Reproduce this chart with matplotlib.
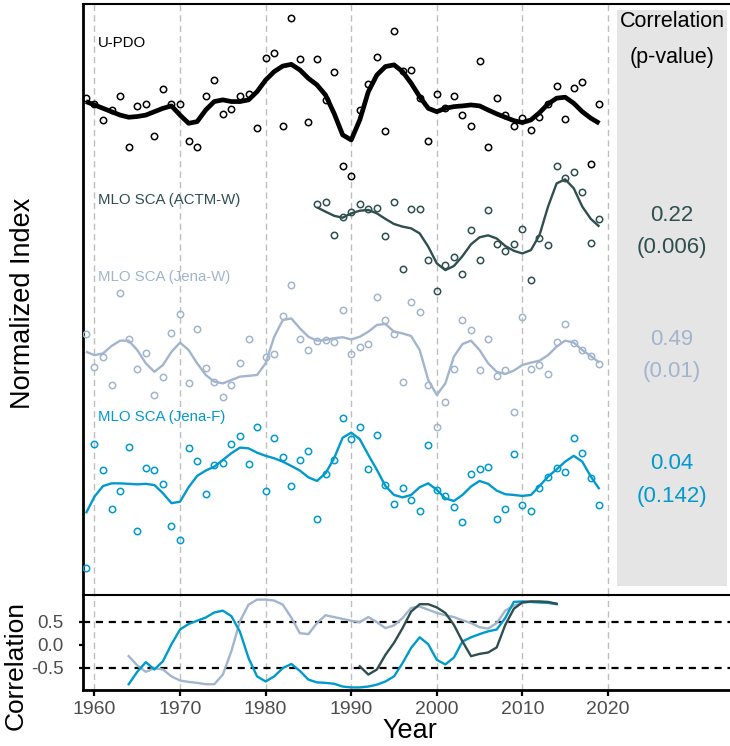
import numpy as np
import matplotlib
matplotlib.use("Agg")
import matplotlib.pyplot as plt

plt.rcParams['font.family'] = ['Liberation Sans', 'DejaVu Sans']

# ---------------- data ----------------
years = np.arange(1959, 2020)
years_actm = np.arange(1986, 2020)

# U-PDO annual index and smoothed curve
pdo = [0.37, 0.12, -0.55, -0.14, 0.46, -1.66, 0.01, 0.12, -1.21, 0.72,
       0.12, 0.12, -1.41, -1.68, 0.44, 1.10, -0.32, -0.11, 0.44, 0.52,
       -0.90, 2.00, 2.21, -0.80, 3.68, 1.96, -0.65, 1.97, 0.28, 1.45,
       -2.44, -2.86, -0.15, 0.92, 2.06, -1.01, 3.12, 1.48, 1.53, 0.35,
       -1.44, 0.52, -0.07, 0.44, -0.36, -0.79, 1.90, -1.67, 0.37, -0.35,
       -0.79, -0.46, -0.95, -0.44, 0.11, 0.87, -0.52, 0.76, 1.01, -2.39,
       0.12]
pdo_smooth = [0.21, 0.07, -0.07, -0.21, -0.35, -0.44, -0.41, -0.35, -0.21, -0.07,
              0.03, -0.35, -0.69, -0.62, -0.14, 0.21, 0.28, 0.21, 0.21, 0.28,
              0.62, 1.10, 1.45, 1.68, 1.75, 1.52, 1.17, 0.90, 0.48, -0.28,
              -1.17, -1.38, -0.55, 0.62, 1.31, 1.66, 1.73, 1.45, 0.97, 0.41,
              -0.07, -0.21, -0.07, 0.00, 0.03, 0.07, 0.03, -0.14, -0.30, -0.44,
              -0.58, -0.66, -0.55, -0.25, 0.11, 0.35, 0.39, 0.14, -0.21, -0.48,
              -0.69]

# MLO seasonal cycle amplitude, ACTM-W (1986-2019)
actm = [1.08, 1.15, -0.21, 0.55, 0.75, 1.09, 0.86, 0.92, -0.23, 1.17,
        -1.60, 0.88, 0.86, -1.26, -2.54, -1.46, -1.12, -1.82, 0.01, -1.23,
        0.81, -0.58, -0.86, -0.59, 0.04, -2.07, -0.32, -0.62, 2.64, 2.14,
        2.40, 1.56, -0.54, 0.44]
actm_smooth = [0.94, 0.76, 0.59, 0.51, 0.69, 0.80, 0.83, 0.69, 0.46, 0.25,
               0.14, 0.07, -0.14, -0.69, -1.38, -1.66, -1.49, -1.08, -0.59, -0.30,
               -0.22, -0.35, -0.66, -0.86, -0.97, -0.83, -0.21, 0.97, 1.93, 2.10,
               1.73, 0.97, 0.46, 0.14]

# MLO seasonal cycle amplitude, Jena-W
jena_w = [0.51, -0.83, -0.44, -1.57, 2.21, 0.30, -0.92, -0.28, -2.00, -1.26,
          0.58, 1.34, -1.50, 0.72, -0.90, -1.45, -2.07, -1.60, -0.68, 0.30,
          np.nan, -0.44, -0.29, 1.27, 2.54, 0.33, -0.14, 0.25, 0.28, 0.21,
          1.52, -0.32, -0.01, 0.12, 2.04, 1.10, 0.51, -1.46, 1.85, 1.45,
          -1.60, -3.31, -2.30, -0.92, 1.10, 0.69, -0.98, 0.33, -1.23, -0.98,
          -2.69, 1.21, -0.92, -0.77, -1.15, 0.18, 0.92, 0.14, -0.14, -0.39,
          -0.70]
jena_w_smooth = [-0.21, -0.35, -0.28, 0.03, 0.25, 0.25, -0.14, -0.69, -1.04, -0.76,
                 -0.21, 0.17, -0.14, -0.69, -1.17, -1.45, -1.52, -1.38, -1.24, -1.21,
                 -1.17, -0.69, 0.41, 1.10, 1.17, 0.76, 0.41, 0.25, 0.28, 0.35,
                 0.39, 0.30, 0.41, 0.62, 0.90, 0.94, 0.62, 0.55, 0.44, -0.14,
                 -1.38, -2.00, -1.52, -0.41, 0.11, 0.25, -0.14, -0.69, -1.04, -1.13,
                 -0.99, -0.76, -0.66, -0.58, -0.35, 0.00, 0.25, 0.17, -0.14, -0.39,
                 -0.66]

# MLO seasonal cycle amplitude, Jena-F
jena_f = [-3.80, 1.35, 0.26, -1.34, -0.61, 1.21, -2.24, 0.35, 0.29, -0.30,
          -2.04, -2.61, 1.17, 0.66, -0.73, 0.47, 0.55, 1.34, 1.70, 0.52,
          2.07, -0.59, 1.61, 0.80, -0.39, 0.69, 1.08, -1.75, 0.11, 0.69,
          2.42, 1.56, 2.07, 0.33, 1.73, -0.35, -1.12, -0.48, -0.97, -1.41,
          1.30, -0.55, -0.80, -1.24, -1.86, 0.11, 0.33, 0.41, -1.77, -1.35,
          0.92, -1.17, -1.41, -0.48, -0.03, 0.35, 0.18, 1.59, 0.97, -0.07,
          -1.17]
jena_f_smooth = [-1.52, -0.83, -0.39, -0.28, -0.28, -0.30, -0.32, -0.30, -0.35, -0.69,
                 -1.10, -1.04, -0.44, 0.03, 0.25, 0.41, 0.69, 0.97, 1.20, 1.17,
                 0.99, 0.86, 0.76, 0.62, 0.44, 0.25, -0.03, -0.18, 0.14, 0.76,
                 1.61, 1.82, 1.55, 0.90, 0.28, -0.39, -0.76, -0.86, -0.76, -0.44,
                 -0.28, -0.55, -0.90, -1.01, -0.76, -0.41, -0.18, -0.30, -0.58, -0.73,
                 -0.76, -0.80, -0.76, -0.39, 0.00, 0.30, 0.62, 0.86, 0.62, 0.00,
                 -0.52]

# Running correlation with U-PDO
corr_years = np.arange(1964, 2015)
corr_years_actm = np.arange(1991, 2015)
corr_jena_w = [-0.25, -0.45, -0.59, -0.51, -0.54, -0.69, -0.78, -0.81, -0.83, -0.86,
               -0.86, -0.65, -0.14, 0.51, 0.87, 0.98, 0.98, 0.96, 0.87, 0.59,
               0.25, 0.23, 0.47, 0.64, 0.60, 0.56, 0.52, 0.49, 0.60, 0.49,
               0.36, 0.42, 0.58, 0.80, 0.83, 0.76, 0.69, 0.64, 0.60, 0.53,
               0.47, 0.38, 0.35, 0.47, 0.74, 0.85, 0.91, 0.93, 0.92, 0.91,
               0.89]
corr_actm = [-0.47, -0.65, -0.54, -0.22, 0.04, 0.36, 0.72, 0.88, 0.88, 0.81,
             0.69, 0.43, 0.07, -0.25, -0.20, -0.17, -0.06, 0.43, 0.78, 0.92,
             0.94, 0.94, 0.93, 0.89]
corr_jena_f = [-0.86, -0.59, -0.38, -0.54, -0.36, 0.01, 0.33, 0.45, 0.52, 0.59,
               0.70, 0.74, 0.62, 0.28, -0.29, -0.69, -0.80, -0.69, -0.51, -0.42,
               -0.57, -0.76, -0.82, -0.83, -0.85, -0.91, -0.93, -0.93, -0.91, -0.87,
               -0.80, -0.69, -0.40, -0.07, 0.16, 0.01, -0.33, -0.43, -0.28, 0.07,
               0.16, 0.23, 0.29, 0.33, 0.58, 0.93, 0.94, 0.93, 0.92, 0.91,
               0.88]

labels = ["U-PDO", "MLO SCA (ACTM-W)", "MLO SCA (Jena-W)", "MLO SCA (Jena-F)"]
corr_values = ["0.22", "0.49", "0.04"]
p_values = ["(0.006)", "(0.01)", "(0.142)"]
x_ticks = [1960, 1970, 1980, 1990, 2000, 2010, 2020]
y_ticks_corr = [-0.5, 0.0, 0.5]

# ---------------- style ----------------
c_pdo = "black"
c_actm = "#2F4F4F"
c_jw = "#A2B5CD"
c_jf = "#009ACD"
grid_c = "#BEBEBE"
tick_c = "#4D4D4D"

offsets = [20.18, 15.07, 10.24, 4.86]
xlim = (1958.66, 2034.26)

fig = plt.figure(figsize=(7.3, 7.46), dpi=100)
ax = fig.add_axes([0.1137, 0.2038, 0.8863, 0.7902])
axc = fig.add_axes([0.1137, 0.0751, 0.8863, 0.1273])

# ---------------- top panel ----------------
ax.set_xlim(*xlim)
ax.set_ylim(0, 24.41)
ax.axvspan(2021, 2033.9, ymin=0.0136, ymax=0.9907, color="#E5E5E5", lw=0, zorder=0)
for xv in x_ticks:
    ax.axvline(xv, color=grid_c, lw=1.0, dashes=(4.5, 3), zorder=1)

series = [
    (years, pdo, pdo_smooth, c_pdo, 3.4),
    (years_actm, actm, actm_smooth, c_actm, 1.7),
    (years, jena_w, jena_w_smooth, c_jw, 1.7),
    (years, jena_f, jena_f_smooth, c_jf, 1.7),
]
for (yr, pts, sm, col, lw), off in zip(series, offsets):
    ax.plot(yr, np.asarray(pts) + off, ls="none", marker="o", ms=4.6,
            mfc="none", mec=col, mew=1.1, zorder=3)
    ax.plot(yr, np.asarray(sm) + off, color=col, lw=lw, zorder=4,
            solid_capstyle="butt", solid_joinstyle="round")

label_y = [0.9347, 0.6684, 0.5377, 0.3003]
for txt, yy, col in zip(labels, label_y, [c_pdo, c_actm, c_jw, c_jf]):
    ax.text(1960.4, yy, txt, transform=ax.get_xaxis_transform(), color=col,
            fontsize=10.8, ha="left", va="center", zorder=5)

ax.text(2027.5, 0.9710, "Correlation", transform=ax.get_xaxis_transform(),
        ha="center", va="center", fontsize=15.5, color="black")
ax.text(2027.5, 0.9100, "(p-value)", transform=ax.get_xaxis_transform(),
        ha="center", va="center", fontsize=15.5, color="black")
val_y = [(0.6420, 0.5880), (0.4310, 0.3770), (0.2210, 0.1650)]
for cv, pv, (y1, y2), col in zip(corr_values, p_values, val_y, [c_actm, c_jw, c_jf]):
    ax.text(2027.5, y1, cv, transform=ax.get_xaxis_transform(),
            ha="center", va="center", fontsize=16, color=col)
    ax.text(2027.5, y2, pv, transform=ax.get_xaxis_transform(),
            ha="center", va="center", fontsize=16, color=col)

ax.set_xticks([])
ax.set_yticks([])
for s in ["right", "bottom"]:
    ax.spines[s].set_visible(False)
ax.spines["left"].set_linewidth(2.0)
ax.spines["top"].set_linewidth(1.5)
ax.set_ylabel("Normalized Index", fontsize=19.5)
ax.yaxis.set_label_coords(-0.073, 0.4936)
ax.patch.set_alpha(0)

# ---------------- correlation panel ----------------
axc.set_xlim(*xlim)
axc.set_ylim(-0.985, 1.08)
for xv in x_ticks:
    axc.axvline(xv, color=grid_c, lw=1.0, dashes=(4.5, 3), zorder=1)
for yv in (0.5, -0.5):
    axc.axhline(yv, color="black", lw=1.6, dashes=(3.2, 2.6), zorder=2)

axc.plot(corr_years, corr_jena_w, color=c_jw, lw=1.7, zorder=3)
axc.plot(corr_years, corr_jena_f, color=c_jf, lw=1.7, zorder=4)
axc.plot(corr_years_actm, corr_actm, color=c_actm, lw=1.7, zorder=5)

axc.set_xticks(x_ticks)
axc.set_yticks(y_ticks_corr)
axc.set_yticklabels(["-0.5", "0.0", "0.5"])
axc.tick_params(axis="x", direction="out", length=4, width=1.6, pad=4,
                labelsize=14, labelcolor=tick_c, color="black")
axc.tick_params(axis="y", direction="out", length=3, width=1.6, pad=11,
                labelsize=13.5, labelcolor=tick_c, color="black")
axc.spines["right"].set_visible(False)
axc.spines["left"].set_linewidth(2.0)
axc.spines["bottom"].set_linewidth(2.0)
axc.spines["top"].set_linewidth(1.5)
axc.set_xlabel("Year", fontsize=19.5)
axc.xaxis.set_label_coords(0.505, -0.30)
axc.set_ylabel("Correlation", fontsize=19)
axc.yaxis.set_label_coords(-0.086, 0.253)

fig.savefig("out.png", dpi=100)
